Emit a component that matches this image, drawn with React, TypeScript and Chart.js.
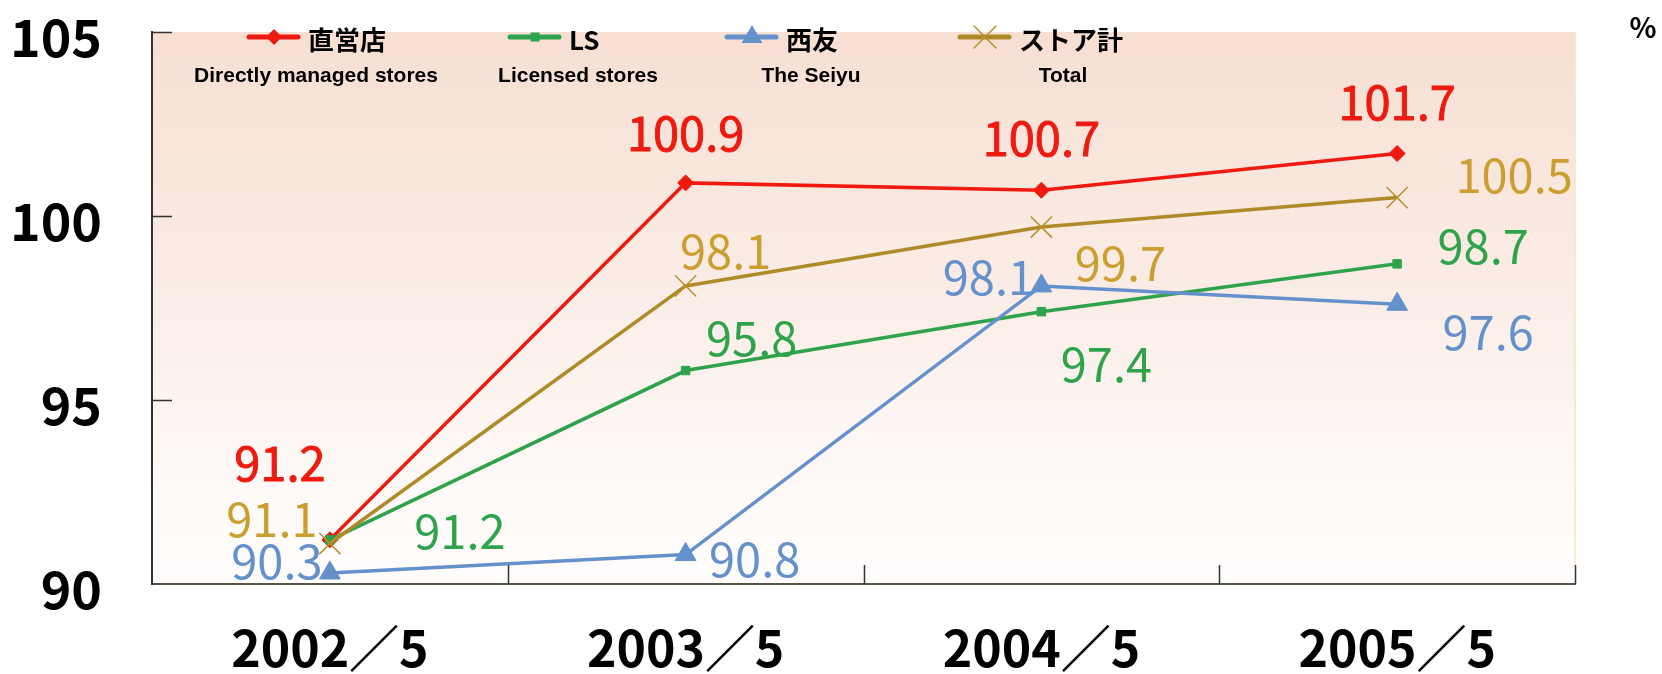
import React, { useEffect, useRef } from 'react';
import { Chart, registerables } from 'chart.js';

Chart.register(...registerables);

// ---- data ----
const categories = ['2002／5', '2003／5', '2004／5', '2005／5'];
const seriesNamesJa = ['直営店', 'LS', '西友', 'ストア計'];
const seriesNamesEn = ['Directly managed stores', 'Licensed stores', 'The Seiyu', 'Total'];
const directStores = [91.2, 100.9, 100.7, 101.7];
const licensedStores = [91.2, 95.8, 97.4, 98.7];
const seiyuStores = [90.3, 90.8, 98.1, 97.6];
const totalStores = [91.1, 98.1, 99.7, 100.5];
const yTickValues = [90, 95, 100, 105];
const unitLabel = '%';

// ---- styling / layout (not data) ----
const FONT = '"Noto Sans CJK JP", "Noto Sans", sans-serif';
const lineColors = ['#EE1A10', '#2FA34C', '#6490CB', '#AE8A28'];
const labelColors = ['#EE1A10', '#2FA34C', '#6490CB', '#CC9E30'];
const labelStroke = [0.9, 0, 0, 0];
const labelOffsets = [
  [[-50, -77], [0, -50], [0, -52], [0, -51]],
  [[130, -9], [66, -32], [65, 52], [86, -18]],
  [[-53, -12], [69, 5], [-53, -9], [91, 28]],
  [[-58, -24], [40, -35], [79, 36], [117, -22]],
];
const legendLineStart = [247, 508, 725, 958];
const legendEnCenter = [316, 578, 811, 1063];

function drawMarker(ctx: CanvasRenderingContext2D, kind: number, x: number, y: number, color: string) {
  ctx.save();
  ctx.fillStyle = color;
  ctx.strokeStyle = color;
  ctx.beginPath();
  if (kind === 0) {
    const r = 8;
    ctx.moveTo(x - r, y); ctx.lineTo(x, y - r); ctx.lineTo(x + r, y); ctx.lineTo(x, y + r); ctx.closePath(); ctx.fill();
  } else if (kind === 1) {
    const s = 4.5;
    ctx.rect(x - s, y - s, 2 * s, 2 * s); ctx.fill();
  } else if (kind === 2) {
    const r = 12;
    ctx.moveTo(x, y - r); ctx.lineTo(x + r * 0.866, y + r * 0.5); ctx.lineTo(x - r * 0.866, y + r * 0.5); ctx.closePath(); ctx.fill();
  } else {
    const d = 11;
    ctx.lineWidth = 1.5;
    ctx.moveTo(x - d, y - d); ctx.lineTo(x + d, y + d);
    ctx.moveTo(x + d, y - d); ctx.lineTo(x - d, y + d);
    ctx.stroke();
  }
  ctx.restore();
}

const decorPlugin = {
  id: 'decor',
  beforeDraw(chart: any) {
    const { ctx, chartArea: a } = chart;
    const g = ctx.createLinearGradient(0, a.top, 0, a.bottom);
    g.addColorStop(0, '#F7DFD2');
    g.addColorStop(0.45, '#FAECE5');
    g.addColorStop(0.8, '#FEF9F6');
    g.addColorStop(1, '#FFFDFC');
    ctx.save();
    ctx.fillStyle = g;
    ctx.fillRect(a.left, a.top, a.right - a.left, a.bottom - a.top);
    ctx.restore();
  },
  afterDatasetsDraw(chart: any) {
    const { ctx } = chart;
    ctx.save();
    ctx.textAlign = 'center';
    ctx.textBaseline = 'middle';
    chart.data.datasets.forEach((ds: any, di: number) => {
      const meta = chart.getDatasetMeta(di);
      ctx.font = `normal 47px ${FONT}`;
      ctx.fillStyle = labelColors[di];
      ctx.strokeStyle = labelColors[di];
      ctx.lineWidth = labelStroke[di];
      meta.data.forEach((pt: any, i: number) => {
        const [dx, dy] = labelOffsets[di][i];
        const t = ds.data[i].toFixed(1);
        ctx.fillText(t, pt.x + dx, pt.y + dy);
        if (labelStroke[di] > 0) ctx.strokeText(t, pt.x + dx, pt.y + dy);
      });
    });
    ctx.restore();
  },
  afterDraw(chart: any) {
    const { ctx, chartArea: a, scales } = chart;
    const x = scales.x;
    const y = scales.y;
    ctx.save();
    // inside tick marks
    ctx.strokeStyle = '#333';
    ctx.lineWidth = 1.5;
    ctx.beginPath();
    yTickValues.forEach((v) => {
      if (v === yTickValues[0]) return;
      const py = Math.round(y.getPixelForValue(v)) + 0.5;
      ctx.moveTo(a.left, py); ctx.lineTo(a.left + 20, py);
    });
    for (let i = 0; i < categories.length; i++) {
      const px = i < categories.length - 1
        ? (x.getPixelForValue(i) + x.getPixelForValue(i + 1)) / 2
        : a.right;
      ctx.moveTo(Math.round(px) + 0.5, a.bottom); ctx.lineTo(Math.round(px) + 0.5, a.bottom - 19);
    }
    ctx.stroke();
    // faint right border
    ctx.strokeStyle = '#F3E6C4';
    ctx.lineWidth = 1.5;
    ctx.beginPath();
    ctx.moveTo(a.right, a.top); ctx.lineTo(a.right, a.bottom - 19);
    ctx.stroke();

    // legend
    for (let i = 0; i < seriesNamesJa.length; i++) {
      const x0 = legendLineStart[i];
      ctx.strokeStyle = lineColors[i];
      ctx.lineWidth = 5;
      ctx.lineCap = 'round';
      ctx.beginPath();
      ctx.moveTo(x0 + 2, 37); ctx.lineTo(x0 + 51, 37);
      ctx.stroke();
      drawMarker(ctx, i, x0 + 27, 37, i === 3 ? '#B8902A' : lineColors[i]);
      ctx.fillStyle = '#000';
      ctx.textAlign = 'left';
      ctx.textBaseline = 'middle';
      ctx.font = `bold 26px ${FONT}`;
      ctx.fillText(seriesNamesJa[i], x0 + 61, 40);
      ctx.textAlign = 'center';
      ctx.font = `bold 21px "Liberation Sans", Arial, sans-serif`;
      ctx.fillText(seriesNamesEn[i], legendEnCenter[i], 76);
    }
    // unit
    ctx.fillStyle = '#000';
    ctx.textAlign = 'center';
    ctx.textBaseline = 'middle';
    ctx.font = `bold 28px ${FONT}`;
    ctx.fillText(unitLabel, 1643, 27);
    ctx.restore();
  },
};

export default function App() {
  const ref = useRef<HTMLCanvasElement>(null);
  useEffect(() => {
    const canvas = ref.current!;
    Chart.defaults.font.family = FONT;
    const seriesData = [directStores, licensedStores, seiyuStores, totalStores];
    const pointStyles = ['rectRot', 'rect', 'triangle', 'crossRot'];
    const pointRadii = [8, 6, 12, 15];
    const orders = [3, 2, 1, 0];
    const chart = new Chart(canvas, {
      type: 'line',
      data: {
        labels: categories,
        datasets: seriesData.map((d, i) => ({
          label: seriesNamesJa[i],
          data: d,
          borderColor: lineColors[i],
          backgroundColor: i === 3 ? '#B8902A' : lineColors[i],
          pointBorderColor: i === 3 ? '#B8902A' : lineColors[i],
          pointBackgroundColor: lineColors[i],
          borderWidth: 3.5,
          pointStyle: pointStyles[i] as any,
          pointRadius: pointRadii[i],
          pointBorderWidth: i === 3 ? 1.5 : 1,
          tension: 0,
          fill: false,
          order: orders[i],
        })),
      },
      options: {
        responsive: false,
        animation: false,
        devicePixelRatio: 1,
        layout: { padding: { left: 0, top: 32, right: 87, bottom: 0 } },
        plugins: {
          legend: { display: false },
          tooltip: { enabled: false },
        },
        scales: {
          x: {
            type: 'category',
            offset: true,
            grid: { display: false, drawTicks: false },
            border: { display: true, color: '#555548', width: 2 },
            ticks: {
              color: '#000',
              font: { size: 50, family: FONT, weight: 'bold' },
              padding: 34,
              maxRotation: 0,
              autoSkip: false,
            },
            afterFit: (s: any) => { s.height = 90; s.paddingLeft = 0; s.paddingRight = 0; },
          },
          y: {
            min: 90,
            max: 105,
            grid: { display: false, drawTicks: false },
            border: { display: true, color: '#333', width: 2 },
            afterBuildTicks: (s: any) => { s.ticks = yTickValues.map((v) => ({ value: v })); },
            ticks: {
              color: '#000',
              font: { size: 52, family: FONT, weight: 'bold' },
              padding: 50,
              labelOffset: 5,
              callback: (v: any) => String(v),
            },
            afterFit: (s: any) => { s.width = 152; s.paddingTop = 0; s.paddingBottom = 0; },
          },
        },
      },
      plugins: [decorPlugin],
    } as any);
    return () => chart.destroy();
  }, []);
  return (
    <div style={{ position: 'fixed', left: 0, top: 0, width: 1662, height: 674, background: '#fff' }}>
      <canvas ref={ref} width={1662} height={674} style={{ display: 'block', width: 1662, height: 674 }} />
    </div>
  );
}
